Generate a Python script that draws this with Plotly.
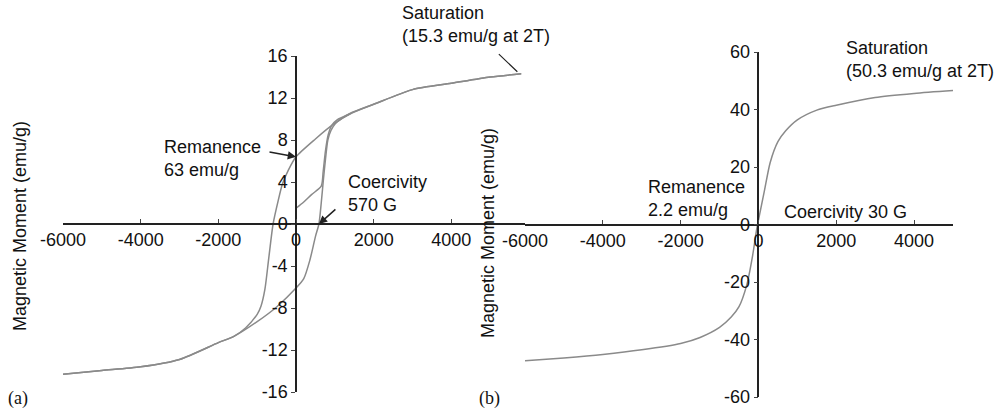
import plotly.graph_objects as go

# ---------------- data: panel (a) ----------------
H_desc = [5800, 5000, 4000, 3000, 2000, 1400, 1000, 500, 0, -200, -350, -460, -590, -700,
          -800, -900, -1000, -1300, -1600, -2000, -3000, -4000, -5000, -6000]
M_desc = [14.3, 14.0, 13.4, 12.8, 11.4, 10.5, 9.6, 8.1, 6.4, 5.1, 3.8, 2.2, 0.0, -3.2,
          -6.2, -7.8, -8.6, -9.9, -10.7, -11.3, -12.9, -13.6, -13.95, -14.3]

H_asc = [-6000, -5000, -4000, -3000, -2000, -1600, -1000, -500, 0, 200, 360, 500, 590, 650,
         700, 760, 820, 900, 1000, 1200, 1400, 2000, 3000, 4000, 5000, 5800]
M_asc = [-14.3, -13.95, -13.6, -12.9, -11.3, -10.7, -9.3, -7.9, -6.1, -5.2, -3.4, -1.2, 0.0, 2.0,
         4.0, 6.2, 8.0, 8.9, 9.5, 10.1, 10.55, 11.4, 12.8, 13.4, 14.0, 14.3]

H_init = [0, 200, 400, 650, 700, 760, 830, 920, 1050, 1400]
M_init = [1.5, 2.1, 2.8, 3.6, 5.0, 7.0, 8.5, 9.4, 9.9, 10.5]

# ---------------- data: panel (b) ----------------
H_b = [-6000, -5000, -4000, -3000, -2000, -1500, -1000, -700, -500, -300, -150, -50, 0,
       150, 300, 500, 700, 1000, 1500, 2000, 3000, 4000, 5000]
M_b = [-47.4, -46.4, -45.2, -43.6, -41.4, -39.3, -35.8, -32.2, -28.6, -21.0, -10.8, -2.0, 1.5,
       11.5, 21.5, 28.8, 32.6, 36.4, 39.8, 41.5, 44.2, 45.6, 46.6]

# tick labels
xticks_a = [-6000, -4000, -2000, 0, 2000, 4000]
xlabels_a = ["-6000", "-4000", "-2000", "0", "2000", "4000"]
yticks_a = [-16, -12, -8, -4, 0, 4, 8, 12, 16]
ylabels_a = ["-16", "-12", "-8", "-4", "0", "4", "8", "12", "16"]
xticks_b = [-6000, -4000, -2000, 0, 2000, 4000]
xlabels_b = ["-6000", "-4000", "-2000", "0", "2000", "4000"]
yticks_b = [-60, -40, -20, 0, 20, 40, 60]
ylabels_b = ["-60", "-40", "-20", "0", "20", "40", "60"]

W, Hgt = 1002, 412
FONT = "Liberation Sans, Arial, sans-serif"
CURVE = dict(color="#8a8a8a", width=1.5, shape="spline", smoothing=0.7)

fig = go.Figure()
fig.add_trace(go.Scatter(x=H_desc, y=M_desc, mode="lines", line=CURVE, xaxis="x", yaxis="y"))
fig.add_trace(go.Scatter(x=H_asc, y=M_asc, mode="lines", line=CURVE, xaxis="x", yaxis="y"))
fig.add_trace(go.Scatter(x=H_init, y=M_init, mode="lines", line=CURVE, xaxis="x", yaxis="y"))
fig.add_trace(go.Scatter(x=H_b, y=M_b, mode="lines", line=CURVE, xaxis="x2", yaxis="y2"))

# domains (paper fractions)
xa_dom = [63 / W, 529 / W]
ya_dom = [20 / Hgt, 356 / Hgt]
xb_dom = [525 / W, 953 / W]
yb_dom = [15 / Hgt, 360 / Hgt]
xa_rng, ya_rng = [-6000, 6000], [-16, 16]
xb_rng, yb_rng = [-6000, 5000], [-60, 60]


def zero_pos(dom, rng):
    return dom[0] + (0 - rng[0]) / (rng[1] - rng[0]) * (dom[1] - dom[0])


axis_common = dict(showline=True, linecolor="#222222", linewidth=1.5, showgrid=False,
                   zeroline=False, tickfont=dict(family=FONT, size=18, color="#111111"),
                   ticklen=4, tickwidth=1, tickcolor="#444444", anchor="free",
                   automargin=False, fixedrange=True)

fig.update_layout(
    width=W, height=Hgt, margin=dict(l=0, r=0, t=0, b=0, pad=0, autoexpand=False),
    paper_bgcolor="white", plot_bgcolor="white", showlegend=False,
    xaxis=dict(domain=xa_dom, range=xa_rng, tickvals=xticks_a, ticktext=xlabels_a,
               ticks="inside", position=zero_pos(ya_dom, ya_rng), **axis_common),
    yaxis=dict(domain=ya_dom, range=ya_rng, tickvals=yticks_a, ticktext=ylabels_a,
               ticks="outside", position=zero_pos(xa_dom, xa_rng), **axis_common),
    xaxis2=dict(domain=xb_dom, range=xb_rng, tickvals=xticks_b, ticktext=xlabels_b,
                ticks="inside", position=zero_pos(yb_dom, yb_rng), **axis_common),
    yaxis2=dict(domain=yb_dom, range=yb_rng, tickvals=yticks_b, ticktext=ylabels_b,
                ticks="outside", position=zero_pos(xb_dom, xb_rng), **axis_common),
)

txt = dict(family=FONT, size=18, color="#111111")
ann = []


def label(text, x, y, **kw):
    d = dict(text=text, x=x / W, y=1 - y / Hgt, xref="paper", yref="paper",
             xanchor="left", yanchor="middle", showarrow=False, align="left", font=txt)
    d.update(kw)
    ann.append(d)


# panel (a) texts
label("Saturation<br>(15.3 emu/g at 2T)", 400, 25)
label("Remanence<br>63 emu/g", 162, 158)
label("Coercivity<br>570 G", 346, 193)
# panel (b) texts
label("Saturation<br>(50.3 emu/g at 2T)", 844, 60)
label("Remanence<br>2.2 emu/g", 646, 198)
label("Coercivity 30 G", 782, 212)

# axis titles
for xc, yc in [(20, 226), (488, 233)]:
    ann.append(dict(text="Magnetic Moment (emu/g)", x=xc / W, y=1 - yc / Hgt, xref="paper",
                    yref="paper", xanchor="center", yanchor="middle", showarrow=False,
                    textangle=-90, font=txt))

# panel letters
for t, xc in [("(a)", 6), ("(b)", 477)]:
    ann.append(dict(text=t, x=xc / W, y=1 - 398 / Hgt, xref="paper", yref="paper",
                    xanchor="left", yanchor="middle", showarrow=False,
                    font=dict(family="Liberation Serif, Times New Roman, serif", size=18,
                              color="#111111")))

# arrows / pointer lines
arrow = dict(text="", showarrow=True, arrowcolor="#222222", arrowwidth=1.5, axref="pixel",
             ayref="pixel")
ann.append(dict(x=0, y=6.4, xref="x", yref="y", ax=-28, ay=-5, arrowhead=2, arrowsize=1.1,
                **arrow))
ann.append(dict(x=590, y=0, xref="x", yref="y", ax=18, ay=-16, arrowhead=2, arrowsize=1.1,
                **arrow))
ann.append(dict(x=5700, y=14.5, xref="x", yref="y", ax=-20, ay=-19, arrowhead=0,
                **{**arrow, "arrowwidth": 1.2}))

fig.update_layout(annotations=ann)
fig.write_html("out.html")
